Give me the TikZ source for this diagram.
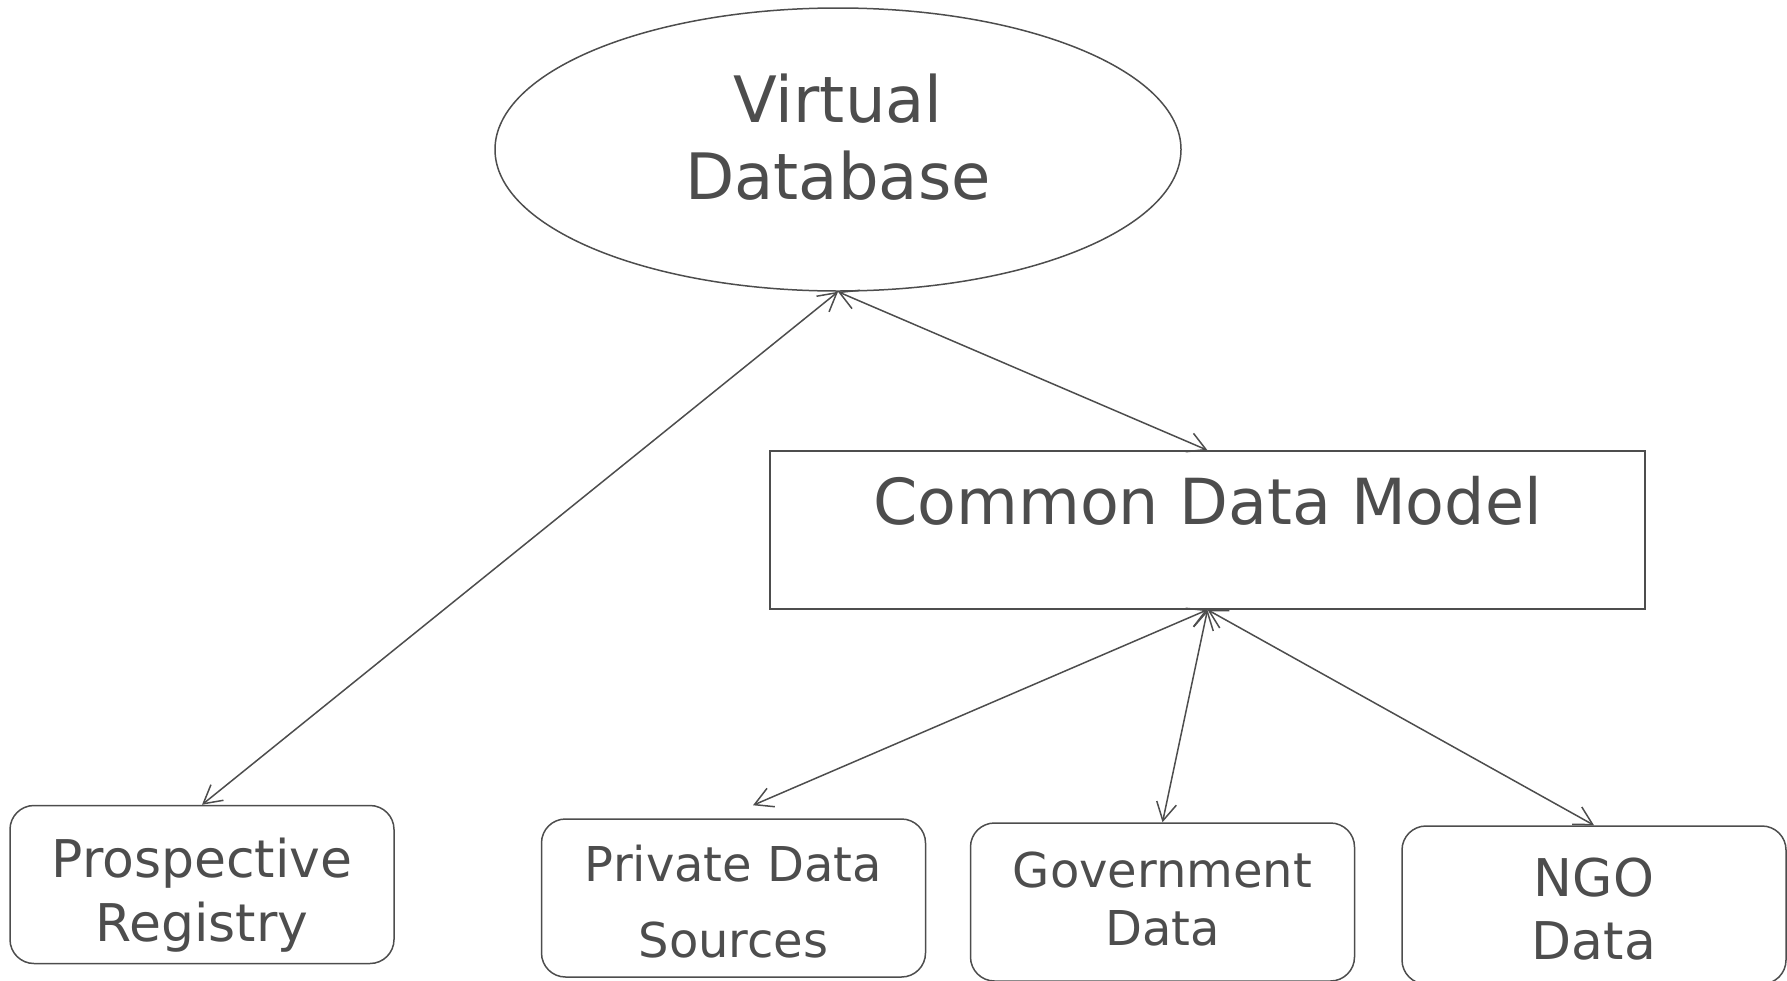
\documentclass[tikz,border=0pt]{standalone}
\usepackage{fontspec}
\setmainfont{DejaVu Sans}
\usepackage[HTML]{xcolor}
\usepackage{tikz}
\usetikzlibrary{positioning, arrows, arrows.meta, shapes.geometric}
\definecolor{ink}{HTML}{4D4D4D}

\begin{document}
\begin{tikzpicture}[x=0.5pt, y=-0.5pt,
  >={Straight Barb[length=9pt, width=10pt]},
  shell/.style={draw=ink, line width=0.75pt, inner sep=0pt},
  box/.style={shell, rounded corners=12pt, minimum width=192pt, minimum height=79pt},
  lbl/.style={align=center, inner sep=0pt, text=ink},
  link/.style={<->, draw=ink, line width=0.75pt}]
\useasboundingbox (0,0) rectangle (1787,980);
% Database and model
\node[shell, ellipse, minimum width=343pt, minimum height=141.5pt] (vdb) at (838,149.5) {};
\node[lbl, yshift=6.15pt, font=\fontsize{32}{38.5}\selectfont] (vdbT) at (vdb) {Virtual\\Database};
\node[shell, rectangle, minimum width=437.5pt, minimum height=79pt] (cdm) at (1207.5,530) {};
\node[lbl, yshift=14.55pt, font=\fontsize{31.75}{36}\selectfont] (cdmT) at (cdm) {Common Data Model};
% Sources
\node[box] (pr) at (202,884.5) {};
\node[box] (pd) at (733.5,898) {};
\node[box] (gd) at (1162.5,902) {};
\node[box] (ngo) at (1594,905) {};
\node[lbl, yshift=-5.1pt, font=\fontsize{26}{32}\selectfont] (prT) at (pr) {Prospective\\Registry};
\node[lbl, yshift=-1.9pt, font=\fontsize{24}{38}\selectfont] (pdT) at (pd) {Private Data\\Sources};
\node[lbl, yshift=1.45pt, font=\fontsize{24}{29}\selectfont] (gdT) at (gd) {Government\\Data};
\node[lbl, yshift=-2.1pt, font=\fontsize{26}{31.5}\selectfont] (ngoT) at (ngo) {NGO\\Data};
% Links
\draw[link] (vdb.south) -- (cdm.north);
\draw[link] (vdb.south) -- (pr.north);
\draw[link] (cdm.south) -- ([xshift=9.75pt, yshift=6.5pt]pd.north);
\draw[link] (cdm.south) -- (gd.north);
\draw[link] (cdm.south) -- (ngo.north);
\end{tikzpicture}
\end{document}
